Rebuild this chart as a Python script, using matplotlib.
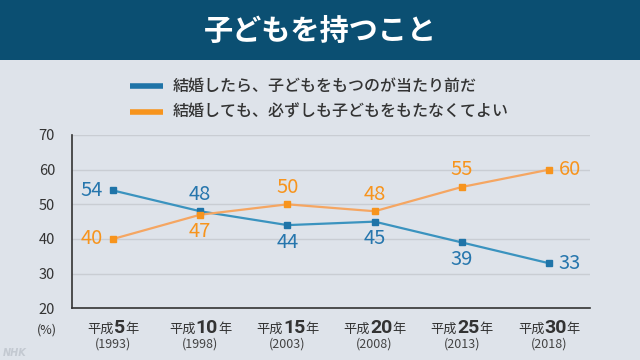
import matplotlib
matplotlib.use("Agg")
import matplotlib.pyplot as plt
from matplotlib.offsetbox import TextArea, HPacker, VPacker, AnnotationBbox
from matplotlib.patches import Rectangle

plt.rcParams['font.family'] = ['Noto Sans CJK JP', 'DejaVu Sans']

title = "子どもを持つこと"
series_names = ["結婚したら、子どもをもつのが当たり前だ", "結婚しても、必ずしも子どもをもたなくてよい"]
era_numbers = ["5", "10", "15", "20", "25", "30"]
years = ["1993", "1998", "2003", "2008", "2013", "2018"]
must_have = [54, 48, 44, 45, 39, 33]
not_needed = [40, 47, 50, 48, 55, 60]
yticks = [20, 30, 40, 50, 60, 70]

BG = "#dee3ea"
HEADER = "#0b4f72"
BLUE_LINE = "#3a93bf"
BLUE_MARK = "#1f74a8"
BLUE_TXT = "#2676ad"
OR_LINE = "#f5a662"
OR_MARK = "#f7941d"
OR_TXT = "#f7941d"

PX = 72 / 100  # points per pixel

fig = plt.figure(figsize=(6.4, 3.6), dpi=100)
fig.patch.set_facecolor(BG)

# header bar
fig.add_artist(Rectangle((0, 300/360), 1, 60/360, transform=fig.transFigure,
                         facecolor=HEADER, edgecolor="none", zorder=0))
fig.text(0.5, 1 - 31/360, title, color="white", fontsize=21, fontweight="bold",
         ha="center", va="center")

# legend
for i, (name, col) in enumerate(zip(series_names, [BLUE_MARK, OR_MARK])):
    y = 1 - (86 + 26*i)/360
    fig.add_artist(plt.Line2D([130/640, 163/640], [y, y], transform=fig.transFigure,
                              color=col, lw=4, solid_capstyle="butt"))
    fig.text(173/640, y, name, color="#333333", fontsize=11.5, ha="left", va="center",
             fontweight="medium")

ax = fig.add_axes([71.7/640, (360-308.3)/360, (590-71.7)/640, (308.3-135)/360])
ax.set_facecolor("none")
x = list(range(len(years)))
ax.set_xlim(-0.474, 5.47)
ax.set_ylim(20, 70)
ax.set_yticks(yticks)
ax.set_yticklabels([str(v) for v in yticks], fontsize=10.5, color="#333333")
ax.tick_params(axis="y", length=0, pad=12)
ax.set_xticks(x)
ax.set_xticklabels([])
ax.tick_params(axis="x", length=0)
for v in yticks[1:]:
    ax.axhline(v, color="#c9cdd3", lw=1, zorder=1)
for s in ["top", "right"]:
    ax.spines[s].set_visible(False)
for s in ["left", "bottom"]:
    ax.spines[s].set_color("#333333")
    ax.spines[s].set_linewidth(1.2)

ax.plot(x, must_have, color=BLUE_LINE, lw=1.6, zorder=3)
ax.plot(x, must_have, ls="none", marker="s", ms=5, color=BLUE_MARK, zorder=4)
ax.plot(x, not_needed, color=OR_LINE, lw=1.6, zorder=3)
ax.plot(x, not_needed, ls="none", marker="s", ms=5, color=OR_MARK, zorder=4)

def lab(xi, yi, txt, col, pos):
    off = {"left": (-21, 0), "right": (21, 0), "above": (0, 17), "below": (0, -17)}[pos]
    ax.annotate(txt, (xi, yi), xytext=(off[0]*PX, off[1]*PX), textcoords="offset points",
                color=col, fontsize=14.5, ha="center", va="center", zorder=5)

blue_pos = ["left", "above", "below", "below", "below", "right"]
or_pos = ["left", "below", "above", "above", "above", "right"]
for i in x:
    lab(i, must_have[i], str(must_have[i]), BLUE_TXT, blue_pos[i])
    lab(i, not_needed[i], str(not_needed[i]), OR_TXT, or_pos[i])

# x tick labels
for i in x:
    a = TextArea("平成", textprops=dict(fontsize=9.5, color="#333333"))
    b = TextArea(era_numbers[i], textprops=dict(fontsize=14, color="#333333", fontweight="bold",
                                                family=["Roboto", "DejaVu Sans"]))
    c = TextArea("年", textprops=dict(fontsize=9.5, color="#333333"))
    row1 = HPacker(children=[a, b, c], align="baseline", pad=0, sep=0)
    row2 = TextArea("(" + years[i] + ")", textprops=dict(fontsize=9, color="#444444"))
    box = VPacker(children=[row1, row2], align="center", pad=0, sep=0)
    ab = AnnotationBbox(box, (i, 0), xycoords=("data", "axes fraction"),
                        xybox=(0, -11*PX), boxcoords="offset points",
                        box_alignment=(0.5, 1), frameon=False, annotation_clip=False)
    ax.add_artist(ab)

fig.text(47/640, 1 - 330/360, "(%)", fontsize=9, color="#333333", ha="center", va="center")
fig.text(3/640, 1 - 353/360, "NHK", fontsize=7, color="#c3c9d1", fontweight="bold",
         style="italic", ha="left", va="center", family=["DejaVu Sans"])

fig.savefig("out.png", dpi=100, facecolor=BG)
